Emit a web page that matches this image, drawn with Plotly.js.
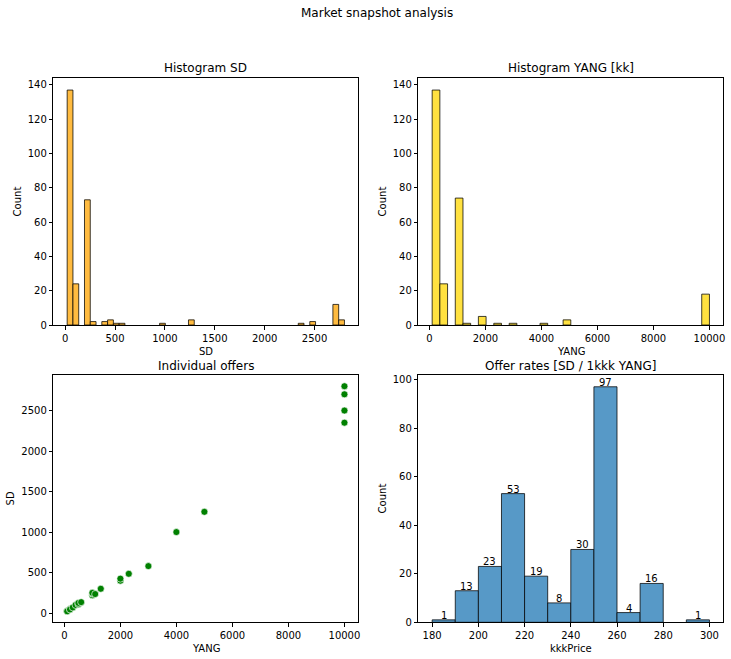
<!DOCTYPE html>
<html>
<head>
<meta charset="utf-8">
<script src="https://cdn.plot.ly/plotly-3.0.1.min.js"></script>
<style>html,body{margin:0;padding:0;background:#fff;}#chart{width:731px;height:659px;}</style>
</head>
<body>
<div id="chart"></div>
<script>
// ---- Data ----
const sdBinStart = 20;
const sdBinSize = 57.92;
const sdCounts = [137,24,0,73,2,0,2,3,1,1,0,0,0,0,0,0,1,0,0,0,0,3,0,0,0,0,0,0,0,0,0,0,0,0,0,0,0,0,0,0,1,0,2,0,0,0,12,3];

const yangBinStart = 100;
const yangBinSize = 275;
const yangCounts = [137,24,0,74,1,0,5,0,1,0,1,0,0,0,1,0,0,3,0,0,0,0,0,0,0,0,0,0,0,0,0,0,0,0,0,18];

const offerYang = [100,100,200,200,300,400,500,500,600,1000,1000,1000,1100,1300,2000,2000,2300,3000,4000,5000,10000,10000,10000,10000];
const offerSD   = [25,22,50,45,70,100,110,125,135,220,240,250,235,300,400,425,485,580,1000,1250,2350,2500,2700,2800];

const rateBinStart = 180;
const rateBinSize = 10;
const rateCounts = [1,13,23,53,19,8,30,97,4,16,0,1];

const sdTicks = [0,500,1000,1500,2000,2500];
const yangTicks = [0,2000,4000,6000,8000,10000];
const countTicksTop = [0,20,40,60,80,100,120,140];
const countTicksRate = [0,20,40,60,80,100];
const rateTicks = [180,200,220,240,260,280,300];

// ---- helpers ----
function binsToBars(start, size, counts){
  const x=[], y=[];
  counts.forEach((c,i)=>{ if(c>0){ x.push(start+(i+0.5)*size); y.push(c);} });
  return {x,y};
}
const W=731, H=659;
const px = v => v/W;
const py = v => 1 - v/H;

const sdBars = binsToBars(sdBinStart, sdBinSize, sdCounts);
const yangBars = binsToBars(yangBinStart, yangBinSize, yangCounts);
const rateBars = binsToBars(rateBinStart, rateBinSize, rateCounts);

const edge = {color:'rgba(0,0,0,0.75)', width:1};
const traces = [
  {type:'bar', x:sdBars.x, y:sdBars.y, width:sdBinSize, xaxis:'x', yaxis:'y',
   marker:{color:'#ffbb40', line:edge}},
  {type:'bar', x:yangBars.x, y:yangBars.y, width:yangBinSize, xaxis:'x2', yaxis:'y2',
   marker:{color:'#ffe140', line:edge}},
  {type:'scatter', mode:'markers', x:offerYang, y:offerSD, xaxis:'x3', yaxis:'y3',
   marker:{color:'green', size:7, line:{color:'rgba(255,255,255,0.8)', width:0.8}}},
  {type:'bar', x:rateBars.x, y:rateBars.y, width:rateBinSize, xaxis:'x4', yaxis:'y4',
   marker:{color:'#5799c7', line:edge}}
];

const base = {showline:true, linecolor:'black', linewidth:1, mirror:true, ticks:'outside',
  ticklen:3.5, tickwidth:1, tickcolor:'black', showgrid:false, zeroline:false,
  tickfont:{family:'DejaVu Sans', size:10, color:'black'}, fixedrange:true, tickformat:'d'};
const ax = (o) => Object.assign({}, base, o);

const colL=[53.3/W, 358.3/W], colR=[418.3/W, 723.3/W];
const rowT=[1-325/H, 1-78.3/H], rowB=[1-622.3/H, 1-375/H];

const ann = (text, x, y, size, angle) => ({text, x:px(x), y:py(y), xref:'paper', yref:'paper',
  showarrow:false, xanchor:'center', yanchor:'middle', textangle:angle||0,
  font:{family:'DejaVu Sans', size:size, color:'black'}});

const barLabels = rateBars.x.map((x,i)=>({text:String(rateBars.y[i]), x:x, y:rateBars.y[i],
  xref:'x4', yref:'y4', showarrow:false, xanchor:'center', yanchor:'bottom', yshift:-3,
  font:{family:'DejaVu Sans', size:10, color:'black'}}));

const layout = {
  width:W, height:H, margin:{l:0,r:0,t:0,b:0}, paper_bgcolor:'white', plot_bgcolor:'white',
  showlegend:false, bargap:0, font:{family:'DejaVu Sans', color:'black'},
  xaxis: ax({domain:colL, anchor:'y', range:[-119,2939], tickvals:sdTicks}),
  yaxis: ax({domain:rowT, anchor:'x', range:[0,143.85], tickvals:countTicksTop}),
  xaxis2: ax({domain:colR, anchor:'y2', range:[-395,10495], tickvals:yangTicks}),
  yaxis2: ax({domain:rowT, anchor:'x2', range:[0,143.85], tickvals:countTicksTop}),
  xaxis3: ax({domain:colL, anchor:'y3', range:[-395,10495], tickvals:yangTicks}),
  yaxis3: ax({domain:rowB, anchor:'x3', range:[-113.75,2938.75], tickvals:sdTicks}),
  xaxis4: ax({domain:colR, anchor:'y4', range:[174,306], tickvals:rateTicks}),
  yaxis4: ax({domain:rowB, anchor:'x4', range:[0,101.85], tickvals:countTicksRate}),
  annotations:[
    ann('Market snapshot analysis', 377, 13, 12),
    ann('Histogram SD', 205.8, 68.3, 12),
    ann('Histogram YANG [kk]', 570.8, 68.3, 12),
    ann('Individual offers', 205.8, 365.7, 12),
    ann('Offer rates [SD / 1kkk YANG]', 570.8, 365.7, 12),
    ann('SD', 205.8, 351, 10),
    ann('YANG', 570.8, 351, 10),
    ann('YANG', 205.8, 648.3, 10),
    ann('kkkPrice', 570.8, 648.3, 10),
    ann('Count', 17.7, 201.7, 10, -90),
    ann('Count', 382.7, 201.7, 10, -90),
    ann('SD', 10.7, 498.7, 10, -90),
    ann('Count', 382.7, 498.7, 10, -90)
  ].concat(barLabels)
};

Plotly.newPlot('chart', traces, layout, {displayModeBar:false, staticPlot:true});
</script>
</body>
</html>
